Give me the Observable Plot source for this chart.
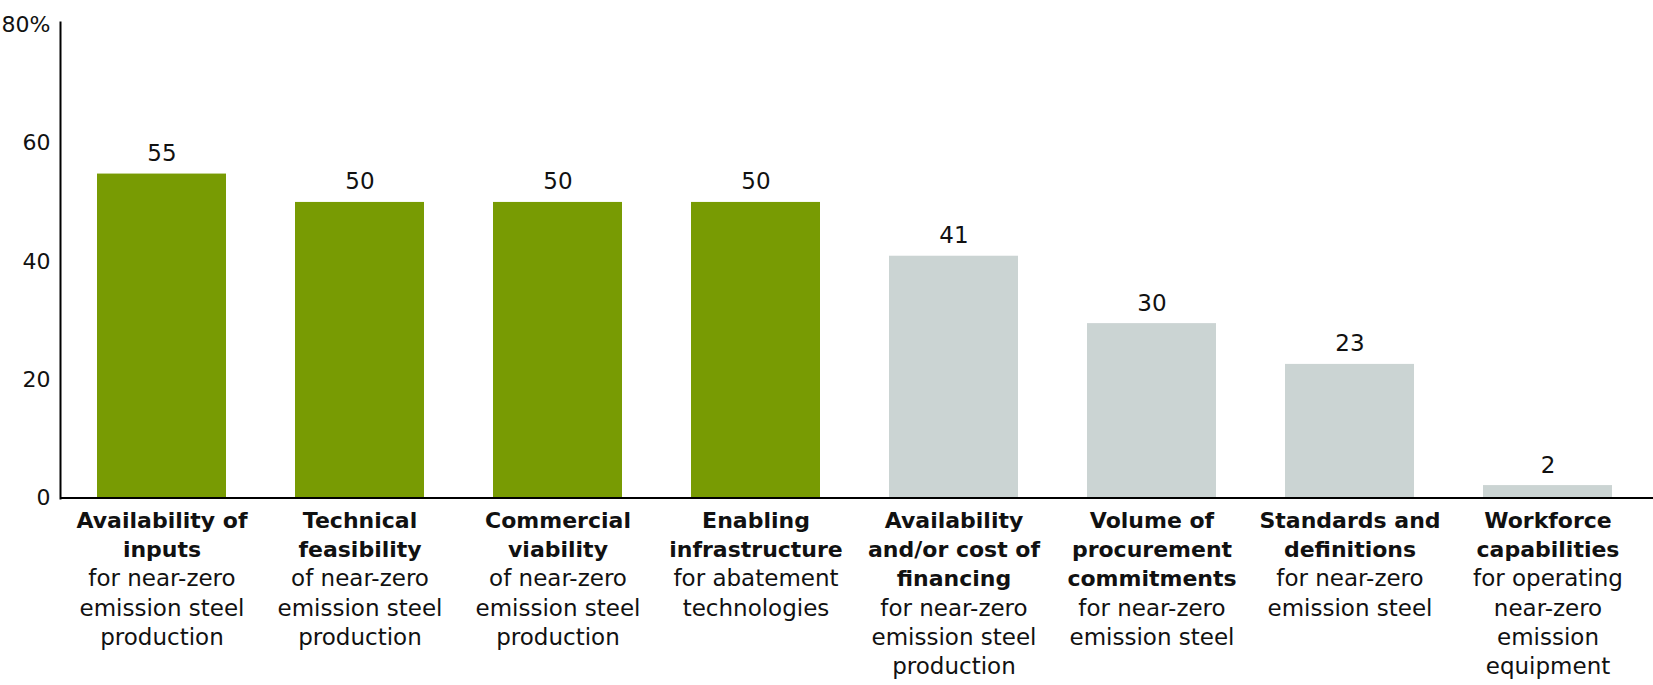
<!DOCTYPE html>
<html>
<head>
<meta charset="utf-8">
<script src="https://cdn.jsdelivr.net/npm/d3@7"></script>
<script src="https://cdn.jsdelivr.net/npm/@observablehq/plot@0.6"></script>
<style>
  html, body { margin: 0; padding: 0; background: #fff; }
  #chart { width: 1653px; height: 685px; }
</style>
</head>
<body>
<div id="chart"></div>
<script>
// ---- data ----
const boldLines = [
  ["Availability of", "inputs"],
  ["Technical", "feasibility"],
  ["Commercial", "viability"],
  ["Enabling", "infrastructure"],
  ["Availability", "and/or cost of", "financing"],
  ["Volume of", "procurement", "commitments"],
  ["Standards and", "definitions"],
  ["Workforce", "capabilities"]
];
const normalLines = [
  ["for near-zero", "emission steel", "production"],
  ["of near-zero", "emission steel", "production"],
  ["of near-zero", "emission steel", "production"],
  ["for abatement", "technologies"],
  ["for near-zero", "emission steel", "production"],
  ["for near-zero", "emission steel"],
  ["for near-zero", "emission steel"],
  ["for operating", "near-zero", "emission", "equipment"]
];
const values = [54.8, 50, 50, 50, 40.9, 29.5, 22.6, 2.1];
const valueLabels = ["55", "50", "50", "50", "41", "30", "23", "2"];
const groups = ["top", "top", "top", "top", "other", "other", "other", "other"];
const yTicks = [0, 20, 40, 60, 80];

// ---- derived tables ----
const categories = boldLines.map(l => l.join(" "));
const bars = categories.map((c, i) => ({cat: c, value: values[i], label: valueLabels[i], group: groups[i]}));
const labelRows = categories.flatMap((c, i) => [
  ...boldLines[i].map(t => ({cat: c, text: t, bold: true})),
  ...normalLines[i].map(t => ({cat: c, text: t, bold: false}))
].map((r, j) => ({...r, line: j})));
const maxLines = d3.max(labelRows, d => d.line) + 1;

const labelMarks = d3.range(maxLines).flatMap(j => [true, false].map(b =>
  Plot.text(labelRows.filter(r => r.line === j && r.bold === b), {
    x: "cat",
    text: "text",
    frameAnchor: "bottom",
    lineAnchor: "bottom",
    dy: 29.3 + j * 29.3,
    fontWeight: b ? "bold" : "normal",
    fontSize: b ? 22 : 23,
    fill: "#111"
  })
));

const chart = Plot.plot({
  width: 1653,
  height: 685,
  marginTop: 22,
  marginBottom: 187,
  marginLeft: 60,
  marginRight: 0,
  style: {fontFamily: "'DejaVu Sans', sans-serif", fontSize: "23px", color: "#111", background: "#fff"},
  x: {domain: categories, range: [60, 1650], paddingInner: 0.346, paddingOuter: 0.173, axis: null},
  y: {domain: [0, 80], range: [497.5, 24.6]},
  color: {domain: ["top", "other"], range: ["#789b03", "#cbd4d3"]},
  marks: [
    Plot.barY(bars, {x: "cat", y: "value", fill: "group"}),
    Plot.text(bars, {x: "cat", y: "value", text: "label", lineAnchor: "bottom", dy: -13, fontSize: 23, fill: "#111"}),
    Plot.axisY({ticks: yTicks, tickSize: 0, tickPadding: 10, label: null, fontSize: 22,
      tickFormat: d => d === 80 ? "80%" : String(d)}),
    Plot.frame({anchor: "left", strokeWidth: 2, stroke: "#000"}),
    Plot.ruleY([0], {strokeWidth: 2, stroke: "#000"}),
    ...labelMarks
  ]
});
document.getElementById("chart").appendChild(chart);
</script>
</body>
</html>
